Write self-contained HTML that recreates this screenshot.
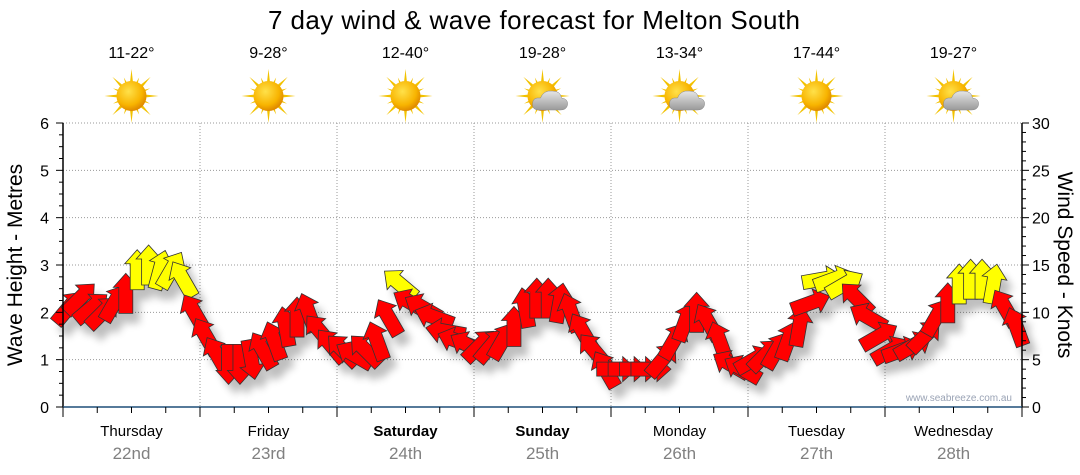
<!DOCTYPE html>
<html><head><meta charset="utf-8"><style>
body{margin:0;background:#fff;font-family:"Liberation Sans","DejaVu Sans",sans-serif;}
svg{display:block}
</style></head><body>
<svg id="chart" width="1080" height="475" xmlns="http://www.w3.org/2000/svg">
<defs>
<filter id="sh" x="-50%" y="-50%" width="200%" height="200%"><feGaussianBlur stdDeviation="4"/></filter>
<radialGradient id="sun" cx="40%" cy="35%" r="65%"><stop offset="0" stop-color="#ffe14a"/><stop offset="0.7" stop-color="#f8b400"/><stop offset="1" stop-color="#e08a00"/></radialGradient>
<linearGradient id="cloud" x1="0" y1="0" x2="0" y2="1"><stop offset="0" stop-color="#e6e6e6"/><stop offset="1" stop-color="#9a9a9a"/></linearGradient>
</defs>
<text x="534" y="29" font-size="26" text-anchor="middle" fill="#000" textLength="532">7 day wind &amp; wave forecast for Melton South</text>
<g id="grid"></g>
<g id="shadows" filter="url(#sh)" opacity="0.25"></g>
<g id="arrows"></g>
<g id="axes"></g>
<text transform="translate(22,265) rotate(-90)" font-size="21" text-anchor="middle">Wave Height - Metres</text>
<text transform="translate(1058,265) rotate(90)" font-size="21" text-anchor="middle">Wind Speed - Knots</text>
<text x="1012" y="401" font-size="10" text-anchor="end" fill="#9aa3b5">www.seabreeze.com.au</text>
</svg>
<script>
const days=["Thursday","Friday","Saturday","Sunday","Monday","Tuesday","Wednesday"];
const dates=["22nd","23rd","24th","25th","26th","27th","28th"];
const temps=["11-22°","9-28°","12-40°","19-28°","13-34°","17-44°","19-27°"];
const cloudy=[0,0,0,1,1,0,1];
const weekend=[0,0,1,1,0,0,0];
const leftTicks=[0,1,2,3,4,5,6];
const rightTicks=[0,5,10,15,20,25,30];
const windSpeed=[10.5,11.5,10.5,10,11,12,14.5,15,14.5,14.5,13.5,10,
7.5,5.5,4.5,4.5,5,6,7,8.5,9.5,10,8,6.5,
6,5.5,6,7,9.5,13,11,10.5,9.5,8,7,6.5,
6.5,6.5,7,8.5,10.5,11.5,11.5,11,10,8,6,4,
4,4,4,4,5,7,9,10,9,7,4.5,4,
5,5.5,6,7,8.5,11,13.5,13.5,13,11.5,9.5,7.5,
6,6,6.5,7.5,9.5,11,13,13.5,13.5,13,10.5,8.5];
const windDir=[40,45,50,45,30,0,0,0,15,30,-30,-30,
-30,-30,180,180,170,-30,-20,-10,0,-20,-40,-40,
-45,-60,-45,-20,-30,-50,-60,-60,-70,-80,-70,-60,
45,40,30,0,-10,0,0,10,-20,-30,-40,-30,
90,90,90,90,40,30,20,0,-30,-20,-60,-60,
60,45,30,20,10,70,80,70,60,-45,-60,60,
60,70,60,45,30,0,0,0,0,10,-30,-20];
const yellowThreshold=12.5;
const X0=63,X1=1022,Y0=407,YT=123,DW=(X1-X0)/7;
const NS="http://www.w3.org/2000/svg";
function yM(m){return Y0-(m/6)*(Y0-YT);}
function yK(k){return Y0-(k/30)*(Y0-YT);}
function xI(i){return X0+(i+0.5)*DW/12;}
function mk(t,a,p){const e=document.createElementNS(NS,t);for(const k in a)e.setAttribute(k,a[k]);(p||document.getElementById('chart')).appendChild(e);return e;}
const grid=document.getElementById('grid'),axes=document.getElementById('axes');
leftTicks.forEach(v=>{if(v>0){const l=mk('line',{x1:X0,x2:X1,y1:yM(v),y2:yM(v),stroke:'#999','stroke-dasharray':'1,2'},grid);}});
for(let d=1;d<7;d++){const l=mk('line',{x1:X0+d*DW,x2:X0+d*DW,y1:YT,y2:Y0,stroke:'#999','stroke-dasharray':'1,2'},grid);}
mk('line',{x1:X0,x2:X0,y1:YT,y2:Y0,stroke:'#000','stroke-width':1.5},axes);
mk('line',{x1:X1,x2:X1,y1:YT,y2:Y0,stroke:'#000','stroke-width':1.5},axes);
mk('line',{x1:X0,x2:X1,y1:Y0,y2:Y0,stroke:'#1f4e79','stroke-width':1.5},axes);
for(let q=0;q<=24;q++){const y=yM(q/4);mk('line',{x1:X0-(q%4==0?7:4),x2:X0,y1:y,y2:y,stroke:'#000'},axes);}
for(let k=0;k<=30;k++){const y=yK(k);mk('line',{x1:X1,x2:X1+(k%5==0?7:4),y1:y,y2:y,stroke:'#000'},axes);}
leftTicks.forEach(v=>{const t=mk('text',{x:X0-14,y:yM(v)+6,'font-size':16,'text-anchor':'end'},axes);t.textContent=v;

});
rightTicks.forEach(v=>{const t=mk('text',{x:X1+10,y:yK(v)+6,'font-size':16},axes);t.textContent=v;

});
for(let s=0;s<=28;s++){const x=X0+s*DW/4;mk('line',{x1:x,x2:x,y1:Y0,y2:Y0+(s%4==0?10:6),stroke:'#000'},axes);}
days.forEach((d,i)=>{const cx=X0+(i+0.5)*DW;
const t=mk('text',{x:cx,y:436,'font-size':15,'text-anchor':'middle','font-weight':weekend[i]?'bold':'normal'});t.textContent=d;


const t2=mk('text',{x:cx,y:459,'font-size':17,'text-anchor':'middle',fill:'#808080'});t2.textContent=dates[i];


const t3=mk('text',{x:cx,y:58,'font-size':16,'text-anchor':'middle'});t3.textContent=temps[i];


const g=mk('g',{transform:`translate(${cx},96)`});


for(let r=0;r<16;r++){const a=r*22.5,L=r%2?20:27;mk('polygon',{points:`-3,0 3,0 0,-${L}`,fill:'#f2c200',transform:`rotate(${a})`},g);}
mk('circle',{r:15,fill:'url(#sun)'},g);
if(cloudy[i]){mk('path',{d:'M-4,14 Q-10,14 -10,8 Q-10,1 -2,2 Q1,-6 10,-5 Q18,-5 19,2 Q26,3 25,9 Q24,14 18,14 Z',fill:'url(#cloud)',stroke:'#888','stroke-width':0.5},g);}
});
const shp=document.getElementById('shadows'),arr=document.getElementById('arrows');
const pts="-7,20 7,20 7,-6 12.5,-6 0,-20 -12.5,-6 -7,-6";
windSpeed.forEach((v,i)=>{const x=xI(i),y=yK(v),a=windDir[i];
mk('polygon',{points:pts,fill:'#000',transform:`translate(${x+7},${y+10}) rotate(${a})`},shp);
const p=mk('polygon',{points:pts,fill:v>=yellowThreshold?'#ffff00':'#ff0000',stroke:'#333','stroke-width':0.8,transform:`translate(${x},${y}) rotate(${a})`},arr);


});
</script>
</body></html>
